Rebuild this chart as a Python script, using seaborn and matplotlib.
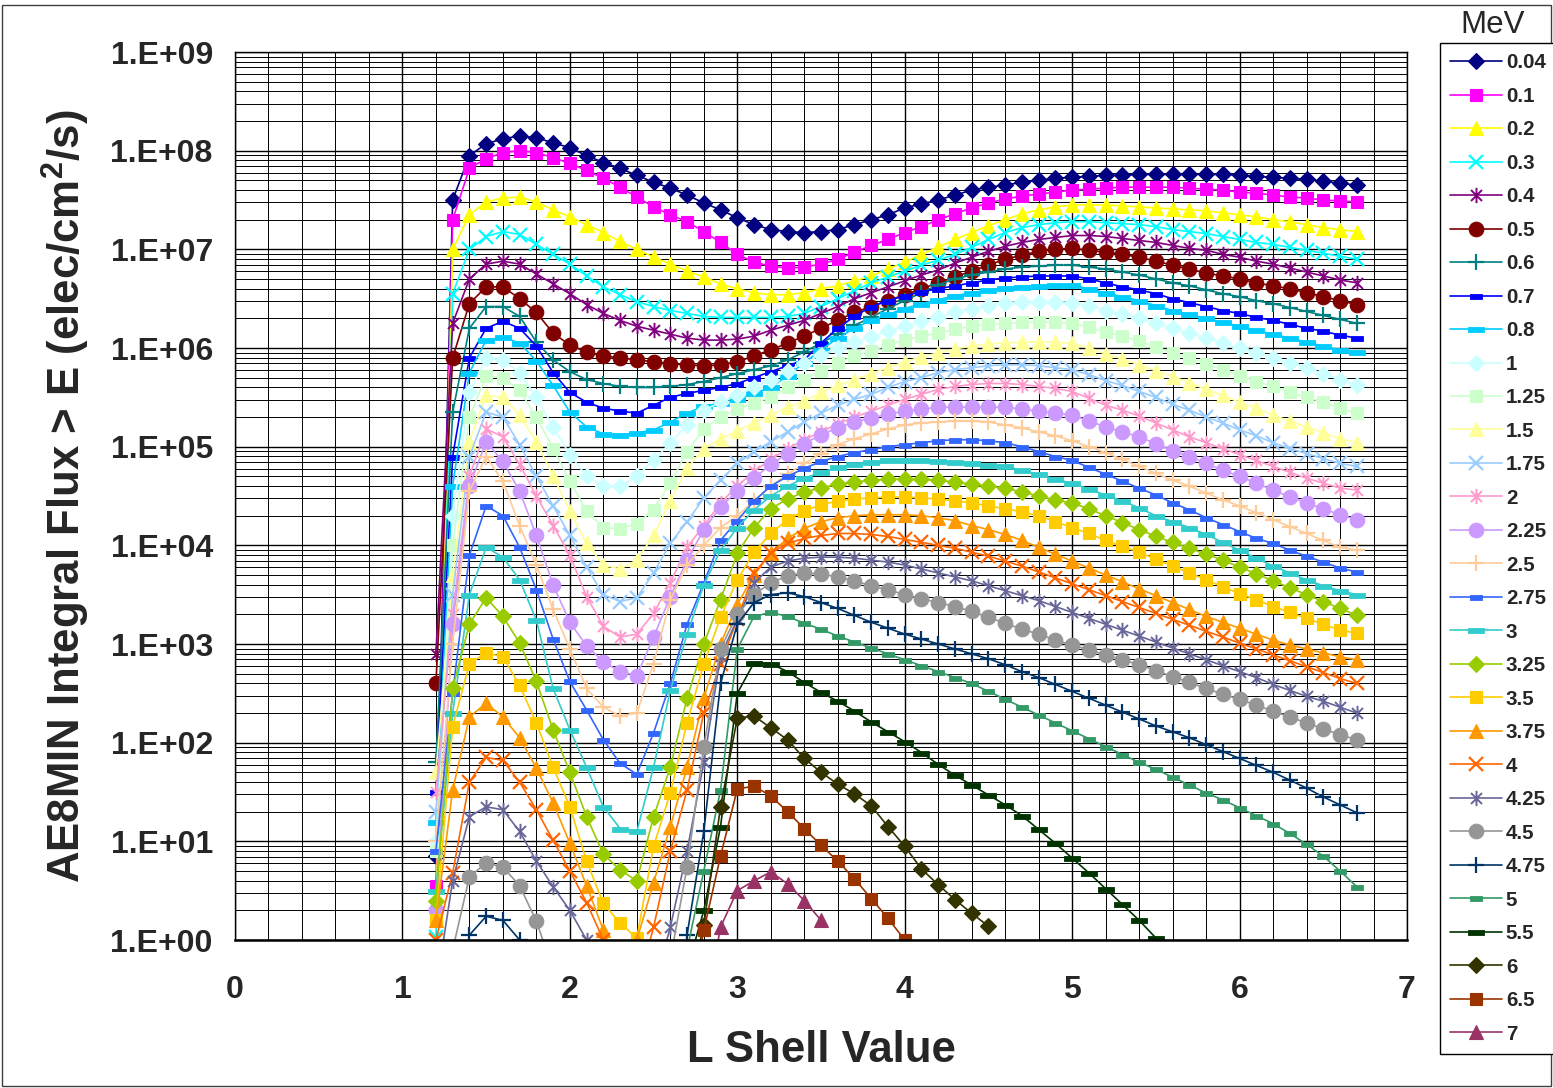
import numpy as np
import pandas as pd
import matplotlib
matplotlib.use("Agg")
import matplotlib.pyplot as plt
from matplotlib.path import Path
from matplotlib.patches import Rectangle
from matplotlib.ticker import MultipleLocator, LogLocator, NullFormatter
import seaborn as sns

# ---------------- data (log10 of integral flux) ----------------
L_SHELL = [1.2, 1.3, 1.4, 1.5, 1.6, 1.7, 1.8, 1.9,
           2.0, 2.1, 2.2, 2.3, 2.4, 2.5, 2.6, 2.7, 2.8, 2.9,
           3.0, 3.1, 3.2, 3.3, 3.4, 3.5, 3.6, 3.7, 3.8, 3.9,
           4.0, 4.1, 4.2, 4.3, 4.4, 4.5, 4.6, 4.7, 4.8, 4.9,
           5.0, 5.1, 5.2, 5.3, 5.4, 5.5, 5.6, 5.7, 5.8, 5.9,
           6.0, 6.1, 6.2, 6.3, 6.4, 6.5, 6.6, 6.7]

ENERGY_LABELS = ["0.04", "0.1", "0.2", "0.3", "0.4", "0.5", "0.6", "0.7", "0.8",
                 "1", "1.25", "1.5", "1.75", "2", "2.25", "2.5", "2.75", "3",
                 "3.25", "3.5", "3.75", "4", "4.25", "4.5", "4.75", "5", "5.5",
                 "6", "6.5", "7"]

LOG_FLUX_0_04 = [
    0.85, 7.50, 7.95, 8.07, 8.12, 8.15, 8.13, 8.08,
    8.03, 7.95, 7.88, 7.82, 7.75, 7.68, 7.62, 7.55, 7.47, 7.40,
    7.32, 7.25, 7.20, 7.18, 7.17, 7.18, 7.20, 7.25, 7.30, 7.35,
    7.42, 7.46, 7.50, 7.55, 7.60, 7.63, 7.65, 7.68, 7.70, 7.72,
    7.73, 7.74, 7.75, 7.75, 7.76, 7.76, 7.76, 7.76, 7.76, 7.76,
    7.75, 7.74, 7.73, 7.72, 7.71, 7.69, 7.67, 7.65]
LOG_FLUX_0_1 = [
    0.55, 7.30, 7.82, 7.92, 7.98, 8.00, 7.98, 7.93,
    7.87, 7.80, 7.72, 7.63, 7.53, 7.43, 7.35, 7.28, 7.18, 7.07,
    6.95, 6.87, 6.83, 6.81, 6.82, 6.85, 6.90, 6.97, 7.04, 7.10,
    7.17, 7.23, 7.30, 7.36, 7.42, 7.47, 7.51, 7.54, 7.56, 7.58,
    7.60, 7.61, 7.62, 7.63, 7.63, 7.63, 7.63, 7.62, 7.61, 7.60,
    7.58, 7.57, 7.55, 7.53, 7.52, 7.50, 7.49, 7.48]
LOG_FLUX_0_2 = [
    0.25, 7.00, 7.35, 7.48, 7.52, 7.53, 7.48, 7.40,
    7.33, 7.25, 7.17, 7.08, 7.00, 6.92, 6.85, 6.78, 6.72, 6.65,
    6.60, 6.56, 6.54, 6.54, 6.56, 6.60, 6.63, 6.68, 6.73, 6.80,
    6.87, 6.95, 7.02, 7.10, 7.17, 7.24, 7.30, 7.36, 7.40, 7.43,
    7.45, 7.45, 7.45, 7.44, 7.43, 7.42, 7.41, 7.40, 7.39, 7.37,
    7.35, 7.33, 7.30, 7.28, 7.25, 7.22, 7.20, 7.18]
LOG_FLUX_0_3 = [
    0.03, 6.55, 7.00, 7.13, 7.18, 7.15, 7.05, 6.95,
    6.85, 6.73, 6.62, 6.54, 6.47, 6.42, 6.38, 6.35, 6.32, 6.31,
    6.31, 6.31, 6.31, 6.32, 6.35, 6.42, 6.50, 6.58, 6.66, 6.72,
    6.78, 6.84, 6.89, 6.95, 7.02, 7.10, 7.17, 7.22, 7.25, 7.27,
    7.28, 7.28, 7.27, 7.26, 7.25, 7.23, 7.20, 7.18, 7.16, 7.13,
    7.10, 7.07, 7.05, 7.02, 6.99, 6.96, 6.93, 6.90]
LOG_FLUX_0_4 = [
    2.90, 6.25, 6.70, 6.85, 6.88, 6.85, 6.75, 6.65,
    6.55, 6.44, 6.35, 6.28, 6.22, 6.18, 6.14, 6.10, 6.08, 6.08,
    6.09, 6.12, 6.18, 6.23, 6.28, 6.35, 6.42, 6.50, 6.56, 6.62,
    6.68, 6.74, 6.79, 6.86, 6.92, 6.98, 7.03, 7.07, 7.10, 7.12,
    7.14, 7.14, 7.13, 7.11, 7.09, 7.07, 7.04, 7.01, 6.99, 6.95,
    6.92, 6.88, 6.85, 6.81, 6.77, 6.73, 6.69, 6.66]
LOG_FLUX_0_5 = [
    2.60, 5.90, 6.45, 6.62, 6.62, 6.50, 6.36, 6.15,
    6.03, 5.96, 5.92, 5.90, 5.88, 5.86, 5.84, 5.83, 5.82, 5.83,
    5.86, 5.92, 5.98, 6.05, 6.12, 6.20, 6.28, 6.36, 6.42, 6.48,
    6.54, 6.60, 6.66, 6.72, 6.78, 6.84, 6.90, 6.94, 6.98, 7.00,
    7.01, 6.99, 6.97, 6.95, 6.92, 6.88, 6.84, 6.80, 6.76, 6.73,
    6.70, 6.66, 6.63, 6.60, 6.56, 6.52, 6.48, 6.44]
LOG_FLUX_0_6 = [
    1.80, 5.35, 6.20, 6.42, 6.42, 6.32, 6.06, 5.88,
    5.76, 5.68, 5.64, 5.61, 5.60, 5.60, 5.61, 5.63, 5.66, 5.70,
    5.74, 5.78, 5.82, 5.88, 5.96, 6.05, 6.14, 6.23, 6.31, 6.40,
    6.48, 6.56, 6.64, 6.70, 6.74, 6.77, 6.80, 6.82, 6.83, 6.84,
    6.84, 6.82, 6.80, 6.77, 6.74, 6.70, 6.66, 6.63, 6.59, 6.55,
    6.52, 6.48, 6.45, 6.41, 6.37, 6.33, 6.29, 6.25]
LOG_FLUX_0_7 = [
    1.50, 4.90, 5.90, 6.20, 6.27, 6.20, 6.02, 5.75,
    5.55, 5.45, 5.39, 5.36, 5.34, 5.42, 5.50, 5.54, 5.57, 5.60,
    5.64, 5.70, 5.76, 5.82, 5.88, 6.05, 6.20, 6.32, 6.42, 6.48,
    6.53, 6.57, 6.60, 6.63, 6.66, 6.69, 6.71, 6.72, 6.73, 6.73,
    6.73, 6.70, 6.66, 6.62, 6.59, 6.55, 6.50, 6.46, 6.42, 6.38,
    6.35, 6.31, 6.28, 6.24, 6.20, 6.17, 6.13, 6.10]
LOG_FLUX_0_8 = [
    1.20, 4.60, 5.75, 6.08, 6.11, 6.05, 5.87, 5.62,
    5.35, 5.20, 5.13, 5.12, 5.14, 5.17, 5.25, 5.34, 5.41, 5.44,
    5.48, 5.54, 5.60, 5.72, 5.85, 5.98, 6.10, 6.20, 6.28, 6.34,
    6.40, 6.45, 6.49, 6.53, 6.56, 6.59, 6.61, 6.62, 6.63, 6.64,
    6.64, 6.60, 6.56, 6.52, 6.48, 6.43, 6.38, 6.34, 6.30, 6.26,
    6.22, 6.18, 6.14, 6.10, 6.06, 6.02, 5.98, 5.96]
LOG_FLUX_1 = [
    1.00, 4.30, 5.55, 5.90, 5.88, 5.75, 5.50, 5.20,
    4.92, 4.70, 4.60, 4.60, 4.70, 4.86, 5.04, 5.22, 5.37, 5.45,
    5.52, 5.60, 5.68, 5.77, 5.85, 5.93, 6.00, 6.06, 6.11, 6.17,
    6.22, 6.27, 6.31, 6.36, 6.40, 6.43, 6.46, 6.47, 6.47, 6.47,
    6.46, 6.43, 6.38, 6.34, 6.30, 6.25, 6.20, 6.15, 6.10, 6.05,
    6.00, 5.95, 5.90, 5.85, 5.80, 5.74, 5.68, 5.62]
LOG_FLUX_1_25 = [
    0.90, 4.00, 5.30, 5.72, 5.70, 5.57, 5.30, 4.98,
    4.65, 4.35, 4.18, 4.17, 4.22, 4.36, 4.63, 4.95, 5.18, 5.30,
    5.38, 5.44, 5.50, 5.60, 5.68, 5.77, 5.85, 5.92, 5.97, 6.03,
    6.08, 6.12, 6.15, 6.19, 6.22, 6.24, 6.25, 6.26, 6.26, 6.26,
    6.25, 6.21, 6.16, 6.12, 6.07, 6.01, 5.95, 5.90, 5.84, 5.78,
    5.72, 5.66, 5.61, 5.55, 5.50, 5.45, 5.39, 5.34]
LOG_FLUX_1_5 = [
    1.70, 3.70, 5.05, 5.52, 5.50, 5.32, 5.05, 4.70,
    4.35, 4.02, 3.80, 3.76, 3.85, 4.10, 4.45, 4.78, 4.98, 5.08,
    5.16, 5.24, 5.32, 5.40, 5.46, 5.55, 5.62, 5.68, 5.74, 5.80,
    5.86, 5.91, 5.95, 5.99, 6.02, 6.04, 6.05, 6.06, 6.06, 6.06,
    6.05, 6.00, 5.94, 5.89, 5.83, 5.77, 5.71, 5.65, 5.58, 5.52,
    5.45, 5.39, 5.32, 5.26, 5.20, 5.14, 5.08, 5.04]
LOG_FLUX_1_75 = [
    1.30, 3.50, 4.90, 5.35, 5.30, 5.02, 4.70, 4.40,
    4.10, 3.78, 3.50, 3.43, 3.47, 3.72, 4.02, 4.24, 4.48, 4.66,
    4.83, 4.95, 5.05, 5.15, 5.25, 5.34, 5.42, 5.48, 5.53, 5.60,
    5.66, 5.70, 5.75, 5.78, 5.80, 5.82, 5.83, 5.83, 5.82, 5.80,
    5.78, 5.73, 5.67, 5.62, 5.56, 5.50, 5.43, 5.37, 5.30, 5.24,
    5.17, 5.11, 5.04, 4.98, 4.93, 4.88, 4.83, 4.80]
LOG_FLUX_2 = [
    1.50, 3.30, 4.70, 5.18, 5.10, 4.82, 4.50, 4.20,
    3.90, 3.48, 3.18, 3.07, 3.10, 3.31, 3.62, 3.98, 4.20, 4.43,
    4.60, 4.75, 4.87, 4.98, 5.07, 5.15, 5.23, 5.30, 5.36, 5.42,
    5.48, 5.53, 5.58, 5.61, 5.63, 5.64, 5.64, 5.63, 5.61, 5.59,
    5.56, 5.49, 5.42, 5.37, 5.31, 5.24, 5.17, 5.10, 5.04, 4.98,
    4.92, 4.86, 4.80, 4.74, 4.68, 4.63, 4.58, 4.56]
LOG_FLUX_2_25 = [
    0.30, 3.20, 4.60, 5.05, 4.85, 4.55, 4.10, 3.60,
    3.22, 2.98, 2.82, 2.72, 2.68, 3.07, 3.48, 3.85, 4.16, 4.39,
    4.55, 4.68, 4.82, 4.93, 5.03, 5.12, 5.19, 5.25, 5.29, 5.33,
    5.36, 5.38, 5.40, 5.40, 5.40, 5.40, 5.40, 5.38, 5.36, 5.34,
    5.32, 5.26, 5.20, 5.15, 5.10, 5.03, 4.96, 4.90, 4.83, 4.76,
    4.70, 4.63, 4.56, 4.49, 4.43, 4.37, 4.31, 4.26]
LOG_FLUX_2_5 = [
    1.00, 3.00, 4.55, 4.90, 4.65, 4.20, 3.80, 3.35,
    2.95, 2.55, 2.36, 2.27, 2.30, 2.80, 3.45, 3.80, 4.00, 4.18,
    4.30, 4.45, 4.60, 4.72, 4.83, 4.93, 5.02, 5.08, 5.13, 5.18,
    5.22, 5.24, 5.25, 5.26, 5.26, 5.25, 5.22, 5.19, 5.15, 5.11,
    5.06, 5.00, 4.94, 4.87, 4.80, 4.73, 4.66, 4.60, 4.53, 4.46,
    4.40, 4.33, 4.26, 4.19, 4.12, 4.05, 3.98, 3.95]
LOG_FLUX_2_75 = [
    0.90, 2.50, 3.90, 4.40, 4.30, 3.98, 3.55, 3.05,
    2.62, 2.33, 2.03, 1.79, 1.68, 2.10, 2.60, 3.20, 3.62, 4.05,
    4.25, 4.45, 4.60, 4.70, 4.78, 4.85, 4.90, 4.94, 4.97, 5.00,
    5.02, 5.04, 5.06, 5.07, 5.07, 5.06, 5.04, 5.00, 4.95, 4.90,
    4.86, 4.79, 4.72, 4.65, 4.58, 4.51, 4.43, 4.36, 4.28, 4.21,
    4.14, 4.07, 4.02, 3.95, 3.89, 3.83, 3.77, 3.73]
LOG_FLUX_3 = [
    0.50, 2.30, 3.50, 3.98, 3.88, 3.65, 3.24, 2.55,
    2.13, 1.75, 1.35, 1.13, 1.10, 1.75, 2.53, 3.10, 3.60, 3.95,
    4.18, 4.36, 4.50, 4.60, 4.68, 4.74, 4.79, 4.82, 4.84, 4.86,
    4.86, 4.86, 4.85, 4.84, 4.83, 4.81, 4.80, 4.76, 4.72, 4.67,
    4.63, 4.57, 4.51, 4.45, 4.38, 4.30, 4.24, 4.18, 4.11, 4.03,
    3.95, 3.87, 3.79, 3.72, 3.65, 3.59, 3.54, 3.50]
LOG_FLUX_3_25 = [
    0.40, 2.55, 3.20, 3.47, 3.28, 3.01, 2.62, 2.13,
    1.70, 1.25, 0.87, 0.71, 0.60, 1.25, 1.75, 2.45, 3.00, 3.45,
    3.92, 4.18, 4.37, 4.47, 4.54, 4.58, 4.62, 4.64, 4.66, 4.67,
    4.67, 4.67, 4.66, 4.64, 4.62, 4.60, 4.58, 4.54, 4.50, 4.46,
    4.43, 4.37, 4.30, 4.23, 4.16, 4.09, 4.03, 3.97, 3.91, 3.85,
    3.78, 3.71, 3.64, 3.57, 3.50, 3.43, 3.36, 3.29]
LOG_FLUX_3_5 = [
    0.20, 2.16, 2.80, 2.91, 2.87, 2.58, 2.20, 1.75,
    1.35, 0.80, 0.37, 0.17, 0.02, 0.95, 1.49, 2.20, 2.80, 3.27,
    3.65, 3.93, 4.12, 4.26, 4.35, 4.41, 4.45, 4.47, 4.48, 4.49,
    4.49, 4.48, 4.47, 4.45, 4.43, 4.40, 4.37, 4.34, 4.30, 4.24,
    4.18, 4.12, 4.05, 3.99, 3.93, 3.86, 3.79, 3.72, 3.65, 3.58,
    3.51, 3.45, 3.38, 3.32, 3.26, 3.20, 3.14, 3.11]
LOG_FLUX_3_75 = [
    0.20, 1.52, 2.26, 2.40, 2.26, 2.05, 1.74, 1.39,
    0.98, 0.55, 0.10, -0.30, 0.00, 0.58, 1.15, 1.75, 2.45, 3.00,
    3.40, 3.70, 3.92, 4.07, 4.17, 4.24, 4.28, 4.30, 4.31, 4.31,
    4.31, 4.30, 4.28, 4.25, 4.20, 4.16, 4.11, 4.05, 3.98, 3.91,
    3.84, 3.77, 3.70, 3.63, 3.56, 3.49, 3.42, 3.35, 3.28, 3.22,
    3.16, 3.10, 3.04, 2.99, 2.95, 2.91, 2.87, 2.84]
LOG_FLUX_4 = [
    0.00, 0.68, 1.60, 1.85, 1.82, 1.60, 1.32, 1.01,
    0.70, 0.38, 0.00, -0.50, -0.50, 0.13, 0.90, 1.52, 2.30, 2.80,
    3.25, 3.72, 3.92, 4.02, 4.07, 4.10, 4.12, 4.12, 4.11, 4.09,
    4.06, 4.03, 4.00, 3.97, 3.93, 3.89, 3.84, 3.79, 3.73, 3.67,
    3.61, 3.55, 3.49, 3.43, 3.37, 3.31, 3.25, 3.19, 3.13, 3.07,
    3.01, 2.95, 2.89, 2.83, 2.77, 2.71, 2.65, 2.60]
LOG_FLUX_4_25 = [
    -0.50, 0.60, 1.25, 1.35, 1.32, 1.10, 0.80, 0.54,
    0.30, 0.00, -0.60, -1.00, -1.00, -0.50, 0.13, 0.90, 1.80, 2.88,
    3.25, 3.62, 3.78, 3.84, 3.87, 3.88, 3.88, 3.87, 3.85, 3.83,
    3.80, 3.76, 3.72, 3.68, 3.64, 3.59, 3.54, 3.49, 3.44, 3.38,
    3.32, 3.26, 3.20, 3.14, 3.08, 3.02, 2.96, 2.90, 2.84, 2.78,
    2.72, 2.66, 2.59, 2.53, 2.47, 2.42, 2.36, 2.30]
LOG_FLUX_4_5 = [
    -1.00, -0.10, 0.64, 0.78, 0.74, 0.55, 0.19, -0.30,
    -1.00, -1.50, -1.50, -1.50, -1.50, -1.50, -0.20, 0.74, 1.96, 2.95,
    3.30, 3.50, 3.62, 3.69, 3.72, 3.71, 3.68, 3.64, 3.59, 3.55,
    3.50, 3.46, 3.42, 3.38, 3.33, 3.27, 3.21, 3.15, 3.10, 3.04,
    2.99, 2.94, 2.89, 2.84, 2.79, 2.73, 2.67, 2.61, 2.55, 2.49,
    2.44, 2.38, 2.32, 2.26, 2.20, 2.14, 2.08, 2.03]
LOG_FLUX_4_75 = [
    -2.00, -1.00, 0.05, 0.24, 0.20, 0.00, -0.60, -1.50,
    -2.00, -2.00, -2.00, -2.00, -2.00, -2.00, -1.50, 0.05, 1.10, 2.60,
    3.20, 3.42, 3.50, 3.52, 3.48, 3.42, 3.36, 3.29, 3.22, 3.16,
    3.10, 3.05, 3.00, 2.95, 2.90, 2.85, 2.79, 2.72, 2.66, 2.59,
    2.52, 2.45, 2.38, 2.31, 2.24, 2.17, 2.11, 2.05, 1.98, 1.91,
    1.84, 1.77, 1.70, 1.62, 1.54, 1.45, 1.37, 1.29]
LOG_FLUX_5 = [None] * 14 + [
    -1.50, -0.10, 0.70, 1.52,
    2.95, 3.28, 3.32, 3.28, 3.21, 3.15, 3.08, 3.02, 2.96, 2.90,
    2.84, 2.78, 2.72, 2.66, 2.60, 2.52, 2.44, 2.36, 2.28, 2.20,
    2.12, 2.04, 1.96, 1.88, 1.80, 1.73, 1.65, 1.57, 1.49, 1.42,
    1.34, 1.26, 1.18, 1.08, 0.97, 0.85, 0.70, 0.54]
LOG_FLUX_5_5 = [None] * 14 + [
    -1.50, -0.30, 0.30, 1.15,
    2.50, 2.81, 2.80, 2.72, 2.61, 2.51, 2.42, 2.32, 2.21, 2.11,
    2.01, 1.90, 1.78, 1.67, 1.57, 1.47, 1.37, 1.26, 1.12, 0.98,
    0.83, 0.68, 0.52, 0.36, 0.20, 0.02] + [None] * 12
LOG_FLUX_6 = [None] * 14 + [
    -1.50, -0.60, 0.15, 1.35,
    2.25, 2.27, 2.15, 2.03, 1.84, 1.70, 1.58, 1.48, 1.36, 1.15,
    0.95, 0.72, 0.56, 0.41, 0.27, 0.14] + [None] * 22
LOG_FLUX_6_5 = [None] * 14 + [
    -1.50, -0.80, 0.10, 0.85,
    1.53, 1.56, 1.46, 1.30, 1.13, 0.96, 0.80, 0.62, 0.42, 0.22,
    0.00] + [None] * 27
LOG_FLUX_7 = [None] * 16 + [
    -0.80, 0.13,
    0.50, 0.60, 0.69, 0.57, 0.40, 0.20] + [None] * 32

SERIES = [LOG_FLUX_0_04, LOG_FLUX_0_1, LOG_FLUX_0_2, LOG_FLUX_0_3, LOG_FLUX_0_4,
          LOG_FLUX_0_5, LOG_FLUX_0_6, LOG_FLUX_0_7, LOG_FLUX_0_8, LOG_FLUX_1,
          LOG_FLUX_1_25, LOG_FLUX_1_5, LOG_FLUX_1_75, LOG_FLUX_2, LOG_FLUX_2_25,
          LOG_FLUX_2_5, LOG_FLUX_2_75, LOG_FLUX_3, LOG_FLUX_3_25, LOG_FLUX_3_5,
          LOG_FLUX_3_75, LOG_FLUX_4, LOG_FLUX_4_25, LOG_FLUX_4_5, LOG_FLUX_4_75,
          LOG_FLUX_5, LOG_FLUX_5_5, LOG_FLUX_6, LOG_FLUX_6_5, LOG_FLUX_7]

Y_TICK_EXPONENTS = [0, 1, 2, 3, 4, 5, 6, 7, 8, 9]
Y_TICK_LABELS = ["1.E+00", "1.E+01", "1.E+02", "1.E+03", "1.E+04",
                 "1.E+05", "1.E+06", "1.E+07", "1.E+08", "1.E+09"]
X_TICKS = [0, 1, 2, 3, 4, 5, 6, 7]
X_TICK_LABELS = ["0", "1", "2", "3", "4", "5", "6", "7"]

# ---------------- styles ----------------
COLORS = ["#000080", "#FF00FF", "#FFFF00", "#00FFFF", "#800080", "#800000",
          "#008080", "#0000FF", "#00CCFF", "#CCFFFF", "#CCFFCC", "#FFFF99",
          "#99CCFF", "#FF99CC", "#CC99FF", "#FFCC99", "#3366FF", "#33CCCC",
          "#99CC00", "#FFCC00", "#FF9900", "#FF6600", "#666699", "#969696",
          "#003366", "#339966", "#003300", "#333300", "#993300", "#993366"]

ASTERISK = Path([(0, -1), (0, 1), (-0.72, -0.72), (0.72, 0.72), (-0.72, 0.72), (0.72, -0.72)],
                [Path.MOVETO, Path.LINETO, Path.MOVETO, Path.LINETO, Path.MOVETO, Path.LINETO])
SHORT_DASH = [(-1, -0.45), (1, -0.45), (1, 0.45), (-1, 0.45), (-1, -0.45)]
LONG_DASH = [(-1, -0.3), (1, -0.3), (1, 0.3), (-1, 0.3), (-1, -0.3)]

# (marker, size, filled, edge width)
M_DIAMOND = ("D", 8.5, True, 0.8)
M_SQUARE = ("s", 9.0, True, 0.8)
M_TRI = ("^", 10.0, True, 0.8)
M_X = ("x", 9.5, False, 1.6)
M_AST = (ASTERISK, 11.0, False, 1.4)
M_CIRC = ("o", 10.5, True, 0.8)
M_PLUS = ("+", 11.0, False, 1.6)
M_SDASH = (SHORT_DASH, 8.0, True, 0.6)
M_LDASH = (LONG_DASH, 12.0, True, 0.6)
MARKERS = [M_DIAMOND, M_SQUARE, M_TRI, M_X, M_AST, M_CIRC, M_PLUS, M_SDASH, M_LDASH,
           M_DIAMOND, M_SQUARE, M_TRI, M_X, M_AST, M_CIRC, M_PLUS, M_SDASH, M_LDASH,
           M_DIAMOND, M_SQUARE, M_TRI, M_X, M_AST, M_CIRC, M_PLUS, M_SDASH, M_LDASH,
           M_DIAMOND, M_SQUARE, M_TRI]

# ---------------- figure ----------------
sns.set_style("white")
plt.rcParams["font.family"] = ["Liberation Sans", "DejaVu Sans"]
plt.rcParams["mathtext.fontset"] = "custom"
plt.rcParams["mathtext.rm"] = "Liberation Sans"
plt.rcParams["mathtext.bf"] = "Liberation Sans:bold"

W, H = 1553, 1088
fig = plt.figure(figsize=(W / 100, H / 100), dpi=100)
fig.patch.set_facecolor("white")
ax = fig.add_axes([235 / W, 1 - 940 / H, (1407 - 235) / W, (940 - 52) / H])
ax.set_facecolor("white")
ax.set_yscale("log")
ax.set_xlim(0, 7)
ax.set_ylim(1, 1e9)

for label, logs, color, (mk, ms, filled, mew) in zip(ENERGY_LABELS, SERIES, COLORS, MARKERS):
    assert len(logs) == len(L_SHELL), label
    flux = [np.nan if v is None else 10.0 ** v for v in logs]
    df = pd.DataFrame({"L": L_SHELL, "flux": flux})
    sns.lineplot(data=df, x="L", y="flux", ax=ax, color=color, linewidth=1.2,
                 marker=mk, markersize=ms, markeredgecolor=color,
                 markerfacecolor=color if filled else "none",
                 markeredgewidth=mew, label=label, legend=False,
                 errorbar=None, sort=True)

# ticks and grid
ax.set_yticks([10.0 ** e for e in Y_TICK_EXPONENTS])
ax.set_yticklabels(Y_TICK_LABELS, fontsize=23, fontweight="bold")
ax.set_xticks(X_TICKS)
ax.set_xticklabels(X_TICK_LABELS, fontsize=23, fontweight="bold")
ax.yaxis.set_minor_locator(LogLocator(base=10, subs=np.arange(2, 10), numticks=100))
ax.yaxis.set_minor_formatter(NullFormatter())
ax.xaxis.set_minor_locator(MultipleLocator(0.2))
ax.tick_params(axis="both", which="both", length=0)
ax.tick_params(axis="y", pad=16)
ax.tick_params(axis="x", pad=25)
ax.set_axisbelow(True)
ax.grid(which="major", color="black", linewidth=1.0)
ax.grid(which="minor", color="black", linewidth=0.7)
for side, sp in ax.spines.items():
    sp.set_color("black")
    sp.set_linewidth(1.0)
ax.spines["bottom"].set_linewidth(1.8)

ax.set_xlabel("L Shell Value", fontsize=31.5, fontweight="bold", va="center")
ax.set_ylabel(r"AE8MIN Integral Flux > E (elec/cm$^{\mathbf{2}}$/s)",
              fontsize=31.5, fontweight="bold", va="center")
ax.xaxis.set_label_coords(0.5, (940 - 1050) / (940 - 52))
ax.yaxis.set_label_coords((66 - 235) / (1407 - 235), 0.5)

# legend
handles, labels = ax.get_legend_handles_labels()
leg = fig.legend(handles, labels, loc="upper left",
                 bbox_to_anchor=(1440 / W, 1 - 43 / H), bbox_transform=fig.transFigure,
                 frameon=True, fancybox=False, edgecolor="black", framealpha=1,
                 borderpad=0.5, labelspacing=0.705, handlelength=2.5,
                 handletextpad=0.2, borderaxespad=0,
                 prop={"weight": "bold", "size": 14.8})
leg.get_frame().set_linewidth(1.0)
fig.text(1493 / W, 1 - 25 / H, "MeV", ha="center", va="center", fontsize=22.5)

# outer border
fig.patches.append(Rectangle((2 / W, 2 / H), (W - 4) / W, (H - 7) / H,
                             transform=fig.transFigure, fill=False,
                             edgecolor="#404040", linewidth=1.0))

fig.savefig("out.png", dpi=100, facecolor="white")
